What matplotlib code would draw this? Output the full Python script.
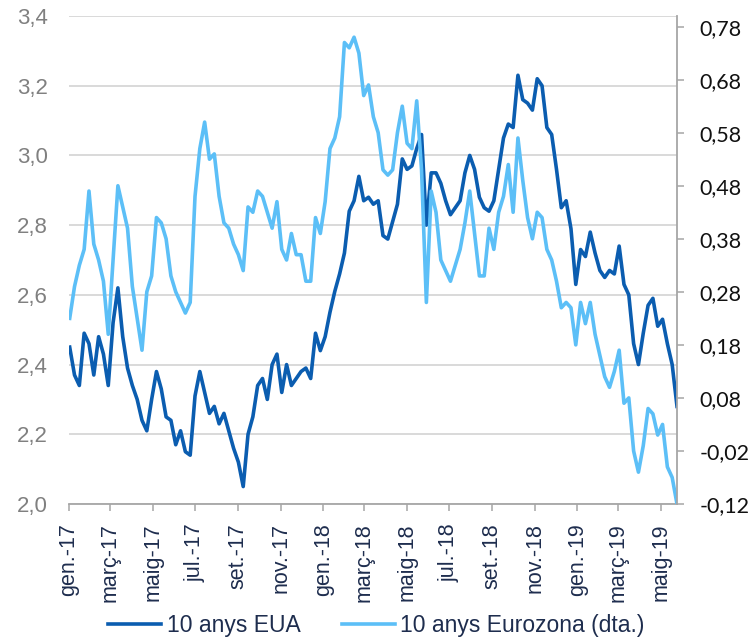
import matplotlib
matplotlib.use("Agg")
import matplotlib.pyplot as plt
import numpy as np
import pandas as pd

# Weekly 10-year sovereign yields (%), Jan 2017 - May 2019
eua = [2.45, 2.37, 2.34, 2.49, 2.46, 2.37, 2.48, 2.43, 2.34, 2.52,
       2.62, 2.48, 2.39, 2.34, 2.30, 2.24, 2.21, 2.30, 2.38, 2.33,
       2.25, 2.24, 2.17, 2.21, 2.15, 2.14, 2.31, 2.38, 2.32, 2.26,
       2.28, 2.23, 2.26, 2.21, 2.16, 2.12, 2.05, 2.20, 2.25, 2.34,
       2.36, 2.30, 2.40, 2.43, 2.32, 2.40, 2.34, 2.36, 2.38, 2.39,
       2.36, 2.49, 2.44, 2.48, 2.55, 2.61, 2.66, 2.72, 2.84, 2.87,
       2.94, 2.87, 2.88, 2.86, 2.87, 2.77, 2.76, 2.81, 2.86, 2.99,
       2.96, 2.97, 3.02, 3.06, 2.80, 2.95, 2.95, 2.92, 2.87, 2.83,
       2.85, 2.87, 2.95, 3.00, 2.96, 2.88, 2.85, 2.84, 2.87, 2.96,
       3.05, 3.09, 3.08, 3.23, 3.16, 3.15, 3.13, 3.22, 3.20, 3.08,
       3.06, 2.96, 2.85, 2.87, 2.79, 2.63, 2.73, 2.71, 2.78, 2.72,
       2.67, 2.65, 2.67, 2.66, 2.74, 2.63, 2.60, 2.46, 2.40, 2.49,
       2.57, 2.59, 2.51, 2.53, 2.46, 2.40, 2.28]

eurozona = [0.23, 0.29, 0.33, 0.36, 0.47, 0.37, 0.34, 0.30, 0.20, 0.34,
            0.48, 0.44, 0.40, 0.29, 0.23, 0.17, 0.28, 0.31, 0.42, 0.41,
            0.38, 0.31, 0.28, 0.26, 0.24, 0.26, 0.46, 0.55, 0.60, 0.53,
            0.54, 0.46, 0.41, 0.40, 0.37, 0.35, 0.32, 0.44, 0.43, 0.47,
            0.46, 0.43, 0.40, 0.45, 0.36, 0.34, 0.39, 0.35, 0.35, 0.30,
            0.30, 0.42, 0.39, 0.45, 0.55, 0.57, 0.61, 0.75, 0.74, 0.76,
            0.73, 0.65, 0.67, 0.61, 0.58, 0.51, 0.50, 0.51, 0.58, 0.63,
            0.56, 0.55, 0.64, 0.51, 0.26, 0.47, 0.43, 0.34, 0.32, 0.30,
            0.33, 0.36, 0.41, 0.47, 0.39, 0.31, 0.31, 0.40, 0.36, 0.43,
            0.46, 0.52, 0.43, 0.57, 0.49, 0.42, 0.38, 0.43, 0.42, 0.36,
            0.34, 0.30, 0.25, 0.26, 0.25, 0.18, 0.26, 0.22, 0.26, 0.20,
            0.16, 0.12, 0.10, 0.13, 0.17, 0.07, 0.08, -0.02, -0.06, -0.01,
            0.06, 0.05, 0.01, 0.03, -0.05, -0.07, -0.12]

tick_dates = ["2017-01-01", "2017-03-01", "2017-05-01", "2017-07-01",
              "2017-09-01", "2017-11-01", "2018-01-01", "2018-03-01",
              "2018-05-01", "2018-07-01", "2018-09-01", "2018-11-01",
              "2019-01-01", "2019-03-01", "2019-05-01"]
tick_labels = ["gen.-17", "març-17", "maig-17", "jul.-17", "set.-17", "nov.-17",
               "gen.-18", "març-18", "maig-18", "jul.-18", "set.-18", "nov.-18",
               "gen.-19", "març-19", "maig-19"]
series_names = ["10 anys EUA", "10 anys Eurozona (dta.)"]

DARK = "#0B5DB0"
LIGHT = "#5CBFF7"
NAVY = "#1E2D4E"
AXIS_GREY = "#A6A6A6"

plt.rcParams["font.family"] = ["Liberation Sans", "DejaVu Sans"]

W, H = 753, 638
fig = plt.figure(figsize=(W / 100, H / 100), dpi=100)
ax = fig.add_axes([69 / W, 1 - 504 / H, (677 - 69) / W, (504 - 16) / H])
ax2 = ax.twinx()

dates = pd.date_range("2017-01-02", "2019-05-24", periods=len(eua))
l1, = ax.plot(dates, eua, color=DARK, lw=2.6, solid_joinstyle="round")
l2, = ax2.plot(dates, eurozona, color=LIGHT, lw=2.6, solid_joinstyle="round")

# Left axis (EUA)
ax.set_ylim(2.0, 3.4)
left_ticks = np.round(np.arange(2.0, 3.41, 0.2), 1)
ax.set_yticks(left_ticks)
ax.set_yticklabels([f"{v:.1f}".replace(".", ",") for v in left_ticks])
ax.yaxis.grid(True, color="#D9D9D9", lw=1.4)
ax.set_axisbelow(True)
ax.tick_params(axis="y", length=0, pad=15, labelsize=16, labelcolor="#808080")

# Right axis (Eurozona)
ax2.set_ylim(-0.12, 0.80)
right_ticks = np.round(-0.12 + 0.1 * np.arange(10), 2)
ax2.set_yticks(right_ticks)
ax2.set_yticklabels([f"{v:.2f}".replace(".", ",") for v in right_ticks],
                    family=["Lato", "DejaVu Sans"])
ax2.tick_params(axis="y", direction="out", length=5, width=1.1, color=AXIS_GREY,
                pad=11, labelsize=15.5, labelcolor="#111111")

# Date axis
ax.set_xlim(pd.Timestamp("2017-01-01"), pd.Timestamp("2019-05-24"))
ax.set_xticks(pd.to_datetime(tick_dates))
ax.set_xticklabels(tick_labels, rotation=90, va="top", ha="center")
ax.tick_params(axis="x", direction="out", length=5, width=1.1, color=AXIS_GREY,
               pad=9, labelsize=15.5, labelcolor=NAVY)

for a in (ax, ax2):
    for s in ("top", "left"):
        a.spines[s].set_visible(False)
ax.spines["right"].set_visible(False)
ax2.spines["bottom"].set_visible(False)
ax.spines["bottom"].set_color(AXIS_GREY)
ax.spines["bottom"].set_linewidth(1.3)
ax2.spines["right"].set_color(AXIS_GREY)
ax2.spines["right"].set_linewidth(1.3)

leg = fig.legend([l1, l2], series_names, loc="lower center",
                 bbox_to_anchor=(0.5, -0.031), ncol=2, frameon=False,
                 fontsize=16.5, handlelength=2.3, handletextpad=0.25,
                 columnspacing=1.8)
for t in leg.get_texts():
    t.set_color(NAVY)

fig.savefig("out.png", dpi=100)
